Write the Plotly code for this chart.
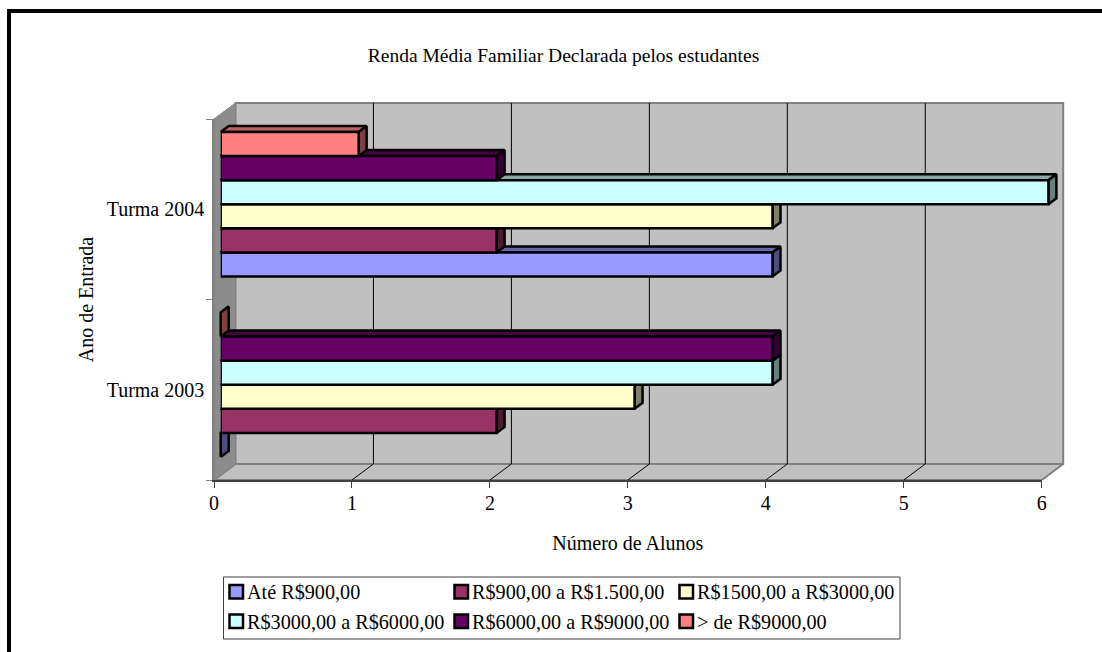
import plotly.graph_objects as go

# Chart data
categories = ["Turma 2003", "Turma 2004"]
series_names = [
    "Até R$900,00",
    "R$900,00 a R$1.500,00",
    "R$1500,00 a R$3000,00",
    "R$3000,00 a R$6000,00",
    "R$6000,00 a R$9000,00",
    "> de R$9000,00",
]
ate_900 = [0, 4]
de_900_a_1500 = [2, 2]
de_1500_a_3000 = [3, 4]
de_3000_a_6000 = [4, 6]
de_6000_a_9000 = [4, 2]
acima_9000 = [0, 1]
series_values = [ate_900, de_900_a_1500, de_1500_a_3000, de_3000_a_6000, de_6000_a_9000, acima_9000]
x_ticks = [0, 1, 2, 3, 4, 5, 6]

# Colours
front_colors = ["#9999FF", "#993366", "#FFFFCC", "#CCFFFF", "#660066", "#FF8080"]
top_colors = ["#6666AA", "#662244", "#AAAA88", "#88AAAA", "#440044", "#C06060"]
side_colors = ["#4D4D80", "#4D1A33", "#808066", "#668080", "#330033", "#804040"]
WALL = "#C0C0C0"
SIDE_WALL = "#8C8C8C"
EDGE = "#808080"
FONT = "Liberation Serif"
FONT_SIZE = 20
BAR_LINE = 2.5

# Page geometry in pixels: front plane of the chart and the larger drawing area
W, H = 1102, 652
FRONT_R, FRONT_T = 1041.7, 119
L, R, T, B = 214, 1072, 95, 480
PW, PH = R - L, B - T
PX_PER_X = (FRONT_R - L) / 6
PX_PER_Y = (B - FRONT_T) / 2

# Oblique depth projection: offsets in pixels for the wall and for the bars
WALL_DX, WALL_DY = 21.5, 16
BAR0_DX, BAR0_DY = 6.7, 5
BAR1_DX, BAR1_DY = 14.7, 11


def shift(v, c, dx, dy):
    return v + dx / PX_PER_X, c + dy / PX_PER_Y


def paper_x(px):
    return (px - L) / PW


def paper_y(py):
    return (B - py) / PH


def polygon(points, fill, line_color, line_width):
    xs = [p[0] for p in points]
    ys = [p[1] for p in points]
    return go.Scatter(
        x=xs, y=ys, mode="lines", fill="toself" if fill else "none", fillcolor=fill,
        line=dict(color=line_color, width=line_width), hoverinfo="skip",
        showlegend=False, xaxis="x", yaxis="y",
    )


fig = go.Figure()

# Back wall, floor and side wall
y0, y1 = -0.5, 1.5
x_min, x_max = x_ticks[0], x_ticks[-1]
fig.add_trace(polygon(
    [shift(x_min, y0, WALL_DX, WALL_DY), shift(x_max, y0, WALL_DX, WALL_DY),
     shift(x_max, y1, WALL_DX, WALL_DY), shift(x_min, y1, WALL_DX, WALL_DY),
     shift(x_min, y0, WALL_DX, WALL_DY)], WALL, EDGE, 2))
fig.add_trace(polygon(
    [(x_min, y0), shift(x_min, y0, WALL_DX, WALL_DY), shift(x_max, y0, WALL_DX, WALL_DY),
     (x_max, y0), (x_min, y0)], WALL, EDGE, 2))
fig.add_trace(polygon(
    [(x_min, y0), (x_min, y1), shift(x_min, y1, WALL_DX, WALL_DY),
     shift(x_min, y0, WALL_DX, WALL_DY), (x_min, y0)], SIDE_WALL, EDGE, 1))

# Gridlines running over the floor and up the back wall
for tick in x_ticks[1:-1]:
    fig.add_trace(polygon(
        [(tick, y0), shift(tick, y0, WALL_DX, WALL_DY), shift(tick, y1, WALL_DX, WALL_DY)],
        None, "#000000", 1))

# Top and side faces of each bar, lowest first so upper bars overlap them
group_width = 0.8
bar_h = group_width / len(series_values)
for c in range(len(categories)):
    for s, values in enumerate(series_values):
        v = values[c]
        lo = c - group_width / 2 + s * bar_h
        hi = lo + bar_h
        fa, fb = shift(0, hi, BAR0_DX, BAR0_DY), shift(v, hi, BAR0_DX, BAR0_DY)
        ba, bb = shift(0, hi, BAR1_DX, BAR1_DY), shift(v, hi, BAR1_DX, BAR1_DY)
        fl, bl = shift(v, lo, BAR0_DX, BAR0_DY), shift(v, lo, BAR1_DX, BAR1_DY)
        fig.add_trace(polygon([fa, fb, bb, ba, fa], top_colors[s], "#000000", BAR_LINE))
        fig.add_trace(polygon([fl, fb, bb, bl, fl], side_colors[s], "#000000", BAR_LINE))

# Front faces of the bars, on a twin pair of axes shifted into the bar plane
for s, values in enumerate(series_values):
    fig.add_trace(go.Bar(
        x=values, y=categories, orientation="h", name=series_names[s],
        marker=dict(color=front_colors[s], line=dict(color="#000000", width=BAR_LINE)),
        xaxis="x2", yaxis="y2", showlegend=False,
    ))

# Empty trace that keeps the front-plane axes on the page
fig.add_trace(go.Scatter(
    x=[None], y=[None], mode="lines", hoverinfo="skip", showlegend=False,
    xaxis="x3", yaxis="y3",
))

# Legend and outer frame
shapes = [
    dict(type="path", xref="paper", yref="paper",
         path=f"M {paper_x(9)} {paper_y(660)} L {paper_x(9)} {paper_y(11)} L {paper_x(1110)} {paper_y(11)}",
         line=dict(color="#000000", width=4)),
    dict(type="rect", xref="paper", yref="paper",
         x0=paper_x(223.5), x1=paper_x(900), y0=paper_y(577), y1=paper_y(639),
         line=dict(color="#404040", width=1), fillcolor="#FFFFFF"),
]
annotations = []
col_x = [229.5, 454.5, 679.5]
row_y = [585, 614.5]
for s, name in enumerate(series_names):
    row, col = s // 3, s % 3
    sx, sy = col_x[col], row_y[row]
    shapes.append(dict(
        type="rect", xref="paper", yref="paper",
        x0=paper_x(sx), x1=paper_x(sx + 13.5), y0=paper_y(sy), y1=paper_y(sy + 13.5),
        line=dict(color="#000000", width=BAR_LINE), fillcolor=front_colors[s],
    ))
    annotations.append(dict(
        text=name, xref="paper", yref="paper", x=paper_x(sx + 17.5), y=paper_y(sy + 7),
        xanchor="left", yanchor="middle", showarrow=False,
        xshift=-2.5, font=dict(family=FONT, size=20.2, color="#000000"),
    ))

x_scene_max = PW / PX_PER_X
y_scene_max = PH / PX_PER_Y - 0.5

fig.update_layout(
    width=W, height=H, margin=dict(l=L, r=W - R, t=T, b=H - B),
    paper_bgcolor="#FFFFFF", plot_bgcolor="rgba(0,0,0,0)",
    font=dict(family=FONT, size=FONT_SIZE, color="#000000"),
    showlegend=False, barmode="group", bargap=0.2, bargroupgap=0,
    title=dict(text="Renda Média Familiar Declarada pelos estudantes",
               x=563.5 / W, xanchor="center", y=1 - 55 / H, yanchor="middle",
               font=dict(family=FONT, size=19.5)),
    # Drawing plane for the walls and bar depth faces
    xaxis=dict(range=[0, x_scene_max], visible=False, anchor="y"),
    yaxis=dict(range=[y0, y_scene_max], visible=False, anchor="x"),
    # Bar plane
    xaxis2=dict(
        domain=[BAR0_DX / PW, 1], range=[0, (PW - BAR0_DX) / PX_PER_X],
        anchor="y2", visible=False,
    ),
    yaxis2=dict(
        domain=[BAR0_DY / PH, 1], range=[-0.5, (PH - BAR0_DY) / PX_PER_Y - 0.5],
        anchor="x2", visible=False, type="category", categoryorder="array", categoryarray=categories,
    ),
    # Visible value and category axes on the front plane
    xaxis3=dict(
        domain=[0, (FRONT_R - L) / PW], range=[x_min, x_max], anchor="y3",
        tickvals=x_ticks, ticks="outside", ticklen=6, tickwidth=1,
        tickcolor="#404040", showgrid=False, zeroline=False, showline=True,
        linecolor="#404040", linewidth=1.5, ticklabelstandoff=-2,
        title=dict(text="Número de Alunos", standoff=23, font=dict(family=FONT, size=FONT_SIZE)),
    ),
    yaxis3=dict(
        domain=[0, (B - FRONT_T) / PH], range=[y0, y1], anchor="x3",
        tickvals=[0, 1], ticktext=categories, ticks="", showgrid=False,
        zeroline=False, showline=True, linecolor=EDGE, linewidth=1.5,
        ticklabelstandoff=4,
        minor=dict(tickvals=[-0.5, 0.5, 1.5], ticks="outside", ticklen=6, tickwidth=1, tickcolor=EDGE),
        title=dict(text="Ano de Entrada", standoff=8, font=dict(family=FONT, size=FONT_SIZE)),
    ),
    shapes=shapes,
    annotations=annotations,
)

fig.write_html("out.html")
